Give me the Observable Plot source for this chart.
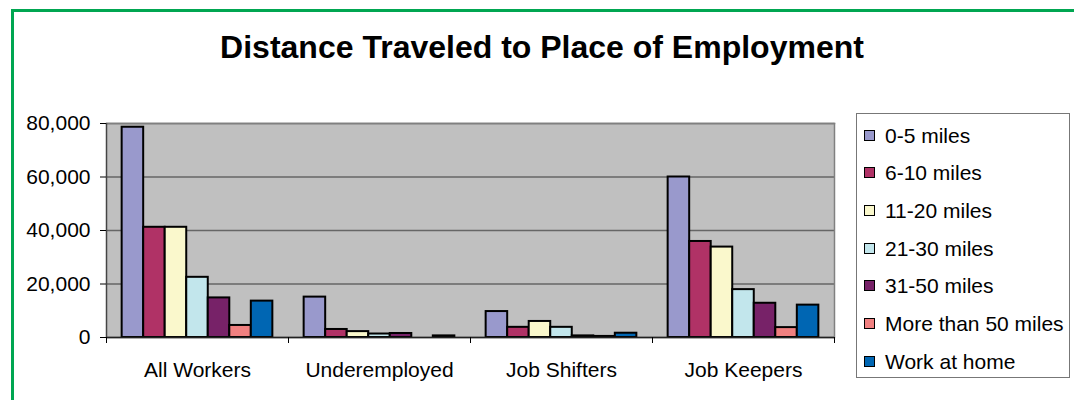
<!DOCTYPE html>
<html>
<head>
<meta charset="utf-8">
<script src="https://cdn.jsdelivr.net/npm/d3@7"></script>
<script src="https://cdn.jsdelivr.net/npm/@observablehq/plot@0.6"></script>
<style>
  html, body { margin: 0; padding: 0; background: #fff; }
  #wrap { position: relative; width: 1074px; height: 400px; overflow: hidden; background: #fff;
          font-family: "Liberation Sans", Arial, sans-serif; color: #000; }
  #frameTop { position: absolute; left: 11px; top: 9px; width: 1100px; height: 3px; background: #00A651; }
  #frameLeft { position: absolute; left: 11px; top: 9px; width: 3px; height: 420px; background: #00A651; }
  #title { position: absolute; left: 0; top: 31px; width: 1084px; text-align: center;
           font-size: 32px; line-height: 32px; font-weight: bold; white-space: nowrap; }
  #chart { position: absolute; left: 0; top: 0; }
  #legend { position: absolute; left: 856px; top: 113px; width: 214px; height: 265px;
            border: 1.5px solid #777; box-sizing: border-box; background: #fff; }
  .item { position: absolute; left: 0; height: 21px; line-height: 21px; font-size: 21px; white-space: nowrap; }
  .sw { position: absolute; left: 7px; top: 5px; width: 11px; height: 11px; border: 1.5px solid #000; box-sizing: border-box; }
  .lab { position: absolute; left: 28px; top: 0; }
</style>
</head>
<body>
<div id="wrap">
  <div id="frameTop"></div>
  <div id="frameLeft"></div>
  <div id="title">Distance Traveled to Place of Employment</div>
  <div id="chart"></div>
  <div id="legend"></div>
</div>
<script>
// Categories and series
const categories = ["All Workers", "Underemployed", "Job Shifters", "Job Keepers"];
const seriesNames = ["0-5 miles", "6-10 miles", "11-20 miles", "21-30 miles", "31-50 miles", "More than 50 miles", "Work at home"];
const seriesColors = ["#9999CC", "#B03266", "#FAF8CC", "#C2E6EC", "#772268", "#F08080", "#0066B3"];

// Values per series (order follows categories)
const miles0to5    = [78600, 15100, 9700, 60000];
const miles6to10   = [41200, 3000, 3800, 35900];
const miles11to20  = [41200, 2200, 6000, 33800];
const miles21to30  = [22500, 1300, 3800, 17900];
const miles31to50  = [14800, 1500, 600, 12800];
const milesOver50  = [4500, 0, 400, 3700];
const workAtHome   = [13600, 600, 1600, 12100];

const yTicks = [0, 20000, 40000, 60000, 80000];

const seriesValues = [miles0to5, miles6to10, miles11to20, miles21to30, miles31to50, milesOver50, workAtHome];

const table = seriesNames.flatMap((s, si) =>
  categories.map((c, gi) => ({category: c, series: s, gi, si, value: seriesValues[si][gi]}))
).filter(d => d.value > 0);

// grouped band layout within each category unit
const groupPad = 0.086;
const barW = (1 - 2 * groupPad) / seriesNames.length;

const chart = Plot.plot({
  width: 1074,
  height: 400,
  marginLeft: 106,
  marginRight: 240,
  marginTop: 123,
  marginBottom: 63,
  style: {background: "transparent", fontFamily: "'Liberation Sans', Arial, sans-serif", fontSize: "21px", color: "#000", overflow: "visible"},
  x: {domain: [0, categories.length], axis: null},
  y: {domain: [0, 80000], axis: null},
  color: {domain: seriesNames, range: seriesColors},
  marks: [
    Plot.frame({fill: "#C0C0C0", stroke: null}),
    Plot.gridY(yTicks, {stroke: "#666", strokeOpacity: 1, strokeWidth: 1.5}),
    Plot.frame({anchor: "top", stroke: "#808080", strokeWidth: 1.5}),
    Plot.frame({anchor: "right", stroke: "#808080", strokeWidth: 1.5}),
    Plot.rect(table, {
      x1: d => d.gi + groupPad + d.si * barW,
      x2: d => d.gi + groupPad + (d.si + 1) * barW,
      y1: 0,
      y2: "value",
      fill: "series",
      stroke: "#000",
      strokeWidth: 2
    }),
    Plot.ruleY([0], {stroke: "#222", strokeWidth: 1.5}),
    Plot.ruleX([0], {stroke: "#444", strokeWidth: 1.5}),
    Plot.axisY({ticks: yTicks, tickFormat: d3.format(","), tickSize: 6, tickPadding: 10, label: null, fontSize: 21}),
    Plot.axisX({ticks: d3.range(categories.length + 1), tickFormat: () => "", tickSize: 6, label: null}),
    Plot.axisX({ticks: categories.map((c, i) => i + 0.5), tickFormat: t => categories[Math.floor(t)], tickSize: 0, tickPadding: 25, label: null, fontSize: 21})
  ]
});
document.getElementById("chart").appendChild(chart);

// Legend
const legend = document.getElementById("legend");
seriesNames.forEach((s, i) => {
  const item = document.createElement("div");
  item.className = "item";
  item.style.top = (10.5 + i * 37.73) + "px";
  const sw = document.createElement("div");
  sw.className = "sw";
  sw.style.background = seriesColors[i];
  const lab = document.createElement("span");
  lab.className = "lab";
  lab.textContent = s;
  item.appendChild(sw);
  item.appendChild(lab);
  legend.appendChild(item);
});
</script>
</body>
</html>
